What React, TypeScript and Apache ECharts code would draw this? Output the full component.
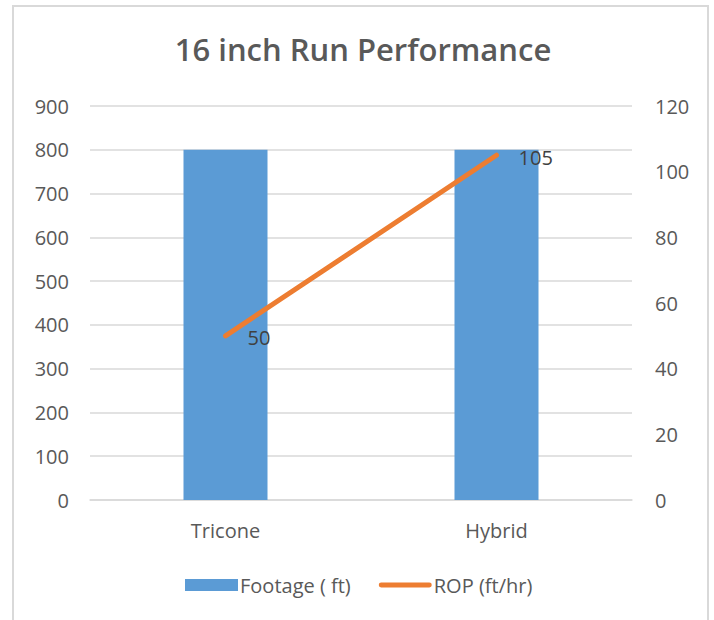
import React, { useEffect, useRef } from "react";
import * as echarts from "echarts";

const categories = ["Tricone", "Hybrid"];
const footage = [800, 800];
const rop = [50, 105];
const leftTicks = { min: 0, max: 900, interval: 100 };
const rightTicks = { min: 0, max: 120, interval: 20 };

const FONT = "'Open Sans', 'Noto Sans', sans-serif";
const TXT = "#595959";
const GRID = "#D9D9D9";

export default function App() {
  const ref = useRef<HTMLDivElement>(null);
  useEffect(() => {
    if (!ref.current) return;
    const chart = echarts.init(ref.current, undefined, { renderer: "svg" });
    chart.setOption({
      animation: false,
      backgroundColor: "#ffffff",
      textStyle: { fontFamily: FONT },
      title: {
        text: "16 inch Run Performance",
        left: 358,
        textAlign: "center",
        top: 28,
        textStyle: { fontFamily: FONT, fontSize: 31, fontWeight: 600, color: TXT },
      },
      graphic: [
        {
          type: "rect",
          shape: { x: 13, y: 6, width: 695, height: 700 },
          style: { fill: "none", stroke: "#D9D9D9", lineWidth: 2 },
          silent: true,
        },
      ],
      grid: { left: 90, right: 82, top: 106, bottom: 120, containLabel: false },
      legend: {
        left: 180,
        top: 570,
        itemWidth: 53,
        itemHeight: 12,
        itemGap: 28,
        symbolKeepAspect: true,
        textStyle: { fontFamily: FONT, fontSize: 20, color: TXT, padding: [0, 0, 0, -3] },
        data: [
          { name: "Footage ( ft)", icon: "rect" },
          {
            name: "ROP (ft/hr)",
            icon: "path://M2.5,0 L52.5,0 A2.5,2.5 0 0 1 52.5,5 L2.5,5 A2.5,2.5 0 0 1 2.5,0 Z",
          },
        ],
      },
      xAxis: {
        type: "category",
        data: categories,
        axisTick: { show: false },
        axisLine: { show: true, lineStyle: { color: GRID, width: 1.5 } },
        axisLabel: { fontFamily: FONT, fontSize: 20, color: TXT, margin: 20 },
      },
      yAxis: [
        {
          type: "value",
          min: leftTicks.min,
          max: leftTicks.max,
          interval: leftTicks.interval,
          axisLine: { show: false },
          axisTick: { show: false },
          splitLine: { lineStyle: { color: GRID, width: 1.5 } },
          axisLabel: { fontFamily: FONT, fontSize: 20, color: TXT, margin: 21 },
        },
        {
          type: "value",
          min: rightTicks.min,
          max: rightTicks.max,
          interval: rightTicks.interval,
          axisLine: { show: false },
          axisTick: { show: false },
          splitLine: { show: false },
          axisLabel: { fontFamily: FONT, fontSize: 20, color: TXT, margin: 23 },
        },
      ],
      series: [
        {
          name: "Footage ( ft)",
          type: "bar",
          data: footage,
          barWidth: "31%",
          itemStyle: { color: "#5B9BD5" },
        },
        {
          name: "ROP (ft/hr)",
          type: "line",
          yAxisIndex: 1,
          data: rop,
          symbol: "circle",
          symbolSize: 0.1,
          showSymbol: true,
          lineStyle: { color: "#ED7D31", width: 5, cap: "round" },
          itemStyle: { color: "#ED7D31" },
          label: {
            show: true,
            position: "right",
            distance: 22,
            offset: [0, 2],
            fontFamily: FONT,
            fontSize: 20,
            color: "#404040",
          },
        },
      ],
    });
    return () => chart.dispose();
  }, []);
  return (
    <div
      ref={ref}
      style={{ position: "fixed", left: 0, top: 0, width: 714, height: 620 }}
    />
  );
}
